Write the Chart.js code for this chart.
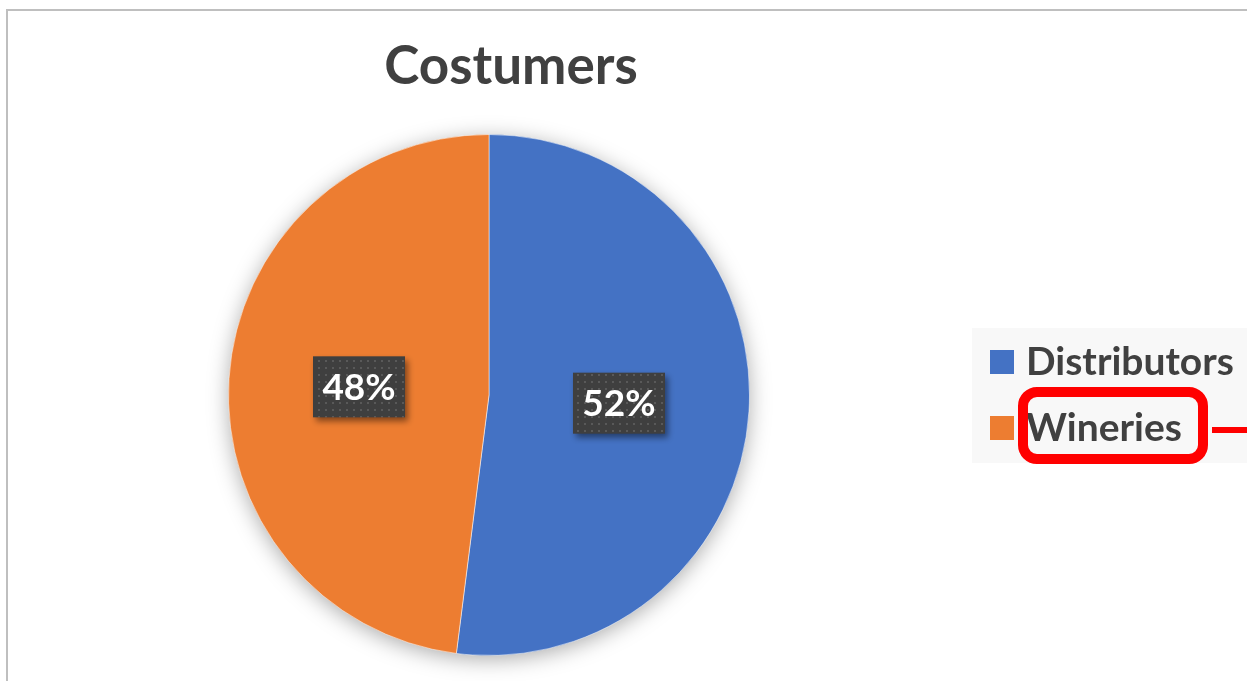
<!DOCTYPE html>
<html>
<head>
<meta charset="utf-8">
<script src="https://cdn.jsdelivr.net/npm/chart.js@4.4.0/dist/chart.umd.min.js"></script>
<style>
  html, body { margin: 0; padding: 0; background: #fff; }
  #wrap { width: 1247px; height: 681px; position: relative; }
</style>
</head>
<body>
<div id="wrap"><canvas id="chart_costumers"></canvas></div>
<script>
var chartTitle = 'Costumers';
var categories = ['Distributors', 'Wineries'];
var shares = [52, 48];
var sliceColors = ['#4472C4', '#ED7D31'];
var highlightedCategory = 'Wineries';

var FONT = "Lato, 'Open Sans', sans-serif";
var TEXT_GREY = '#404040';

// small dotted tile used behind the percentage labels
function makeDotPattern(ctx) {
    var tile = document.createElement('canvas');
    tile.width = 7;
    tile.height = 7;
    var t = tile.getContext('2d');
    t.fillStyle = '#3f3f3f';
    t.fillRect(0, 0, 7, 7);
    t.fillStyle = '#595959';
    t.fillRect(3, 3, 2, 2);
    return ctx.createPattern(tile, 'repeat');
}

var chart_costumers = new Chart(document.getElementById('chart_costumers'), {
    type: 'pie',
    data: {
        labels: categories,
        datasets: [{
            data: shares,
            backgroundColor: sliceColors,
            borderColor: 'rgba(255,255,255,0.5)',
            borderWidth: 1
        }]
    },
    options: {
        animation: false,
        responsive: true,
        maintainAspectRatio: false,
        layout: {
            padding: { top: 134, bottom: 25, left: 228, right: 497 }
        },
        plugins: {
            legend: { display: false },
            title: { display: false },
            tooltip: { enabled: false }
        }
    },
    plugins: [{
        id: 'excelLook',
        beforeDraw: (chart) => {
            const ctx = chart.ctx;
            ctx.save();
            ctx.fillStyle = 'white';
            ctx.fillRect(0, 0, chart.width, chart.height);
            // chart frame (top and left edges visible)
            ctx.strokeStyle = '#bfbfbf';
            ctx.lineWidth = 2;
            ctx.beginPath();
            ctx.moveTo(7, chart.height);
            ctx.lineTo(7, 10);
            ctx.lineTo(chart.width, 10);
            ctx.stroke();
            ctx.restore();
        },
        beforeDatasetsDraw: (chart) => {
            // soft shadow under the whole pie
            const arc = chart.getDatasetMeta(0).data[0];
            if (!arc) return;
            const ctx = chart.ctx;
            ctx.save();
            ctx.shadowColor = 'rgba(0,0,0,0.35)';
            ctx.shadowBlur = 22;
            ctx.shadowOffsetY = 4;
            ctx.fillStyle = '#ffffff';
            ctx.beginPath();
            ctx.arc(arc.x, arc.y, arc.outerRadius - 1, 0, Math.PI * 2);
            ctx.fill();
            ctx.restore();
        },
        afterDatasetsDraw: (chart) => {
            const ctx = chart.ctx;
            const meta = chart.getDatasetMeta(0);
            const values = chart.data.datasets[0].data;
            const total = values.reduce((a, b) => a + b, 0);
            const pattern = makeDotPattern(ctx);
            ctx.save();
            ctx.font = 'bold 37px ' + FONT;
            ctx.textAlign = 'center';
            ctx.textBaseline = 'middle';
            meta.data.forEach((arc, i) => {
                const p = arc.getCenterPoint();
                const txt = Math.round(values[i] / total * 100) + '%';
                const w = 92;
                const h = 61;
                ctx.save();
                ctx.shadowColor = 'rgba(0,0,0,0.45)';
                ctx.shadowBlur = 6;
                ctx.shadowOffsetX = 3;
                ctx.shadowOffsetY = 4;
                ctx.fillStyle = pattern;
                ctx.fillRect(p.x - w / 2, p.y - h / 2, w, h);
                ctx.restore();
                ctx.fillStyle = '#ffffff';
                ctx.fillText(txt, p.x, p.y + 1);
            });
            ctx.restore();
        },
        afterDraw: (chart) => {
            const ctx = chart.ctx;
            ctx.save();
            // title
            ctx.fillStyle = TEXT_GREY;
            ctx.font = 'bold 53px ' + FONT;
            ctx.textAlign = 'center';
            ctx.textBaseline = 'alphabetic';
            ctx.fillText(chartTitle, 511, 84);

            // legend panel
            ctx.fillStyle = '#f8f8f8';
            ctx.fillRect(972, 328, chart.width - 972, 135);
            ctx.font = 'bold 39px ' + FONT;
            ctx.textAlign = 'left';
            categories.forEach((name, i) => {
                const cy = 362 + i * 66;
                ctx.fillStyle = sliceColors[i];
                ctx.fillRect(990, cy - 12, 24, 24);
                ctx.fillStyle = TEXT_GREY;
                ctx.fillText(name, 1026, cy + 13);
                if (name === highlightedCategory) {
                    ctx.strokeStyle = '#ff0000';
                    ctx.lineWidth = 10;
                    ctx.beginPath();
                    ctx.roundRect(1023, cy - 36, 180, 67, 14);
                    ctx.stroke();
                    ctx.lineWidth = 6;
                    ctx.beginPath();
                    ctx.moveTo(1212, cy + 2);
                    ctx.lineTo(chart.width, cy + 2);
                    ctx.stroke();
                }
            });
            ctx.restore();
        }
    }]
});
</script>
</body>
</html>
